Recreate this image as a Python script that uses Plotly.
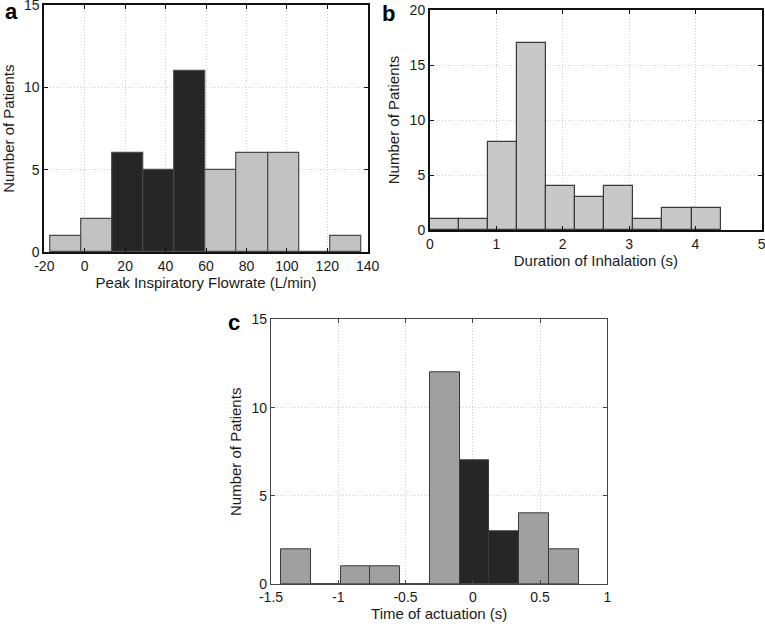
import plotly.graph_objects as go

# Panel a: Peak Inspiratory Flowrate
a_edges = [-17.2, -1.8, 13.6, 29.0, 44.4, 59.8, 75.2, 90.6, 106.0, 121.4, 136.8]
a_counts = [1, 2, 6, 5, 11, 5, 6, 6, 0, 1]
a_dark = [False, False, True, True, True, False, False, False, False, False]

# Panel b: Duration of Inhalation
b_edges = [0.0, 0.438, 0.876, 1.314, 1.752, 2.19, 2.628, 3.066, 3.504, 3.942, 4.38]
b_counts = [1, 1, 8, 17, 4, 3, 4, 1, 2, 2]

# Panel c: Time of actuation
c_edges = [-1.426, -1.205, -0.983, -0.762, -0.541, -0.319, -0.098, 0.123, 0.344, 0.566, 0.787]
c_counts = [2, 0, 1, 1, 0, 12, 7, 3, 4, 2]
c_dark = [False, False, False, False, False, False, True, True, False, False]

a_xticks = [-20, 0, 20, 40, 60, 80, 100, 120, 140]
a_xticklabels = ["-20", "0", "20", "40", "60", "80", "100", "120", "140"]
b_xticks = [0, 1, 2, 3, 4, 5]
c_xticks = [-1.5, -1, -0.5, 0, 0.5, 1]
c_xticklabels = ["-1.5", "-1", "-0.5", "0", "0.5", "1"]

W, H = 765, 629
LIGHT_A = "#c2c2c2"
LIGHT_B = "#c8c8c8"
GRAY_C = "#a0a0a0"
DARK = "#262626"
FONT = "Liberation Sans, Arial, sans-serif"


def bars(edges, counts, colors, xa, ya, edge_color, edge_w):
    centers = [(edges[i] + edges[i + 1]) / 2 for i in range(len(counts))]
    widths = [edges[i + 1] - edges[i] for i in range(len(counts))]
    return go.Bar(x=centers, y=counts, width=widths,
                  marker=dict(color=colors, line=dict(color=edge_color, width=edge_w)),
                  xaxis=xa, yaxis=ya, showlegend=False, hoverinfo="skip")


fig = go.Figure()
fig.add_trace(bars(a_edges, a_counts, [DARK if d else LIGHT_A for d in a_dark], "x", "y", "#4a4a4a", 1.2))
fig.add_trace(bars(b_edges, b_counts, [LIGHT_B] * len(b_counts), "x2", "y2", "#3a3a3a", 1.2))
fig.add_trace(bars(c_edges, c_counts, [DARK if d else GRAY_C for d in c_dark], "x3", "y3", "#3a3a3a", 1))


def xdom(x0, x1):
    return [x0 / W, x1 / W]


def ydom(y0, y1):
    return [1 - y1 / H, 1 - y0 / H]


def axis_style(lw, lc):
    return dict(showline=True, linecolor=lc, linewidth=lw, mirror="ticks", ticks="inside",
                ticklen=4, tickcolor=lc, tickwidth=1, showgrid=True, gridcolor="#cfcfcf",
                griddash="1px,2px", gridwidth=1, zeroline=False, automargin=False,
                ticklabeloverflow="allow",
                tickfont=dict(family=FONT, size=14, color="#1a1a1a"),
                title_font=dict(family=FONT, size=15, color="#1a1a1a"))


sa = axis_style(2, "#111111")
sb = axis_style(2, "#111111")
sc = axis_style(1.2, "#444444")

fig.update_layout(
    width=W, height=H, margin=dict(l=0, r=0, t=0, b=0, autoexpand=False),
    paper_bgcolor="white", plot_bgcolor="white", bargap=0,
    xaxis=dict(domain=xdom(44.3, 367.7), range=[-20, 140], tickvals=a_xticks, ticktext=a_xticklabels,
               title=dict(text="Peak Inspiratory Flowrate (L/min)", standoff=4), anchor="y", **sa),
    yaxis=dict(domain=ydom(5, 252.3), range=[0, 15], tickvals=[0, 5, 10, 15],
               title=dict(text="Number of Patients", standoff=6), anchor="x", **sa),
    xaxis2=dict(domain=xdom(430, 761.7), range=[0, 5], tickvals=b_xticks,
                title=dict(text="Duration of Inhalation (s)", standoff=4), anchor="y2", **sb),
    yaxis2=dict(domain=ydom(10, 230), range=[0, 20], tickvals=[0, 5, 10, 15, 20],
                title=dict(text="Number of Patients", standoff=6), anchor="x2", **sb),
    xaxis3=dict(domain=xdom(271, 607.3), range=[-1.5, 1], tickvals=c_xticks, ticktext=c_xticklabels,
                title=dict(text="Time of actuation (s)", standoff=2), anchor="y3", **sc),
    yaxis3=dict(domain=ydom(319.3, 584.3), range=[0, 15], tickvals=[0, 5, 10, 15],
                title=dict(text="Number of Patients", standoff=6), anchor="x3", **sc),
)

for txt, px, py in [("a", 11, 11), ("b", 388, 13), ("c", 234, 322)]:
    fig.add_annotation(text="<b>%s</b>" % txt, x=px / W, y=1 - py / H, xref="paper", yref="paper",
                       showarrow=False, font=dict(family=FONT, size=22, color="black"),
                       xanchor="center", yanchor="middle")

fig.write_html("out.html", config={"displayModeBar": False},
               post_script="document.body.style.margin='0';document.body.style.overflow='hidden';")
